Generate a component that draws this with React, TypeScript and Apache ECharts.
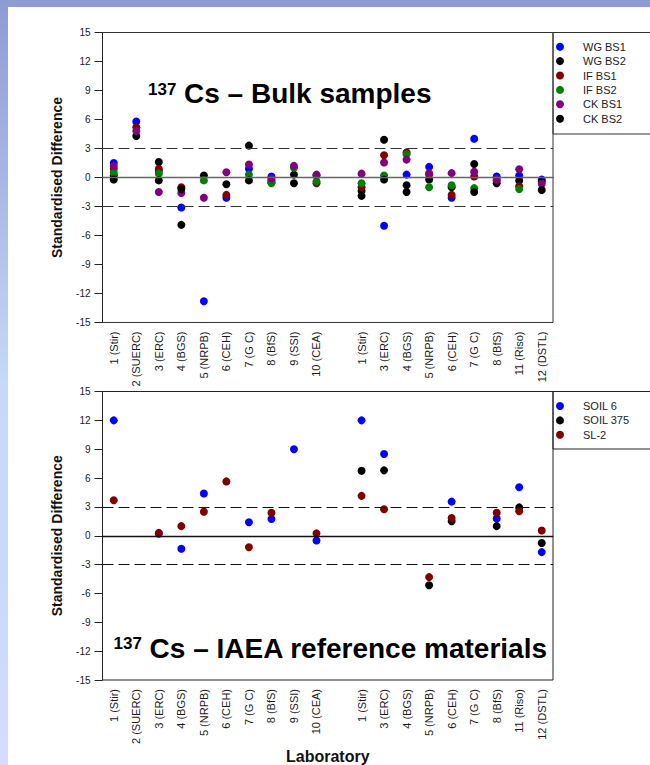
import React, { useEffect, useRef } from "react";
import * as echarts from "echarts";

const FONT = '"Liberation Sans", Arial, Helvetica, sans-serif';

// Laboratory codes along the x axis; the empty slot separates the two rounds
const labs = [
  "1 (Stir)", "2 (SUERC)", "3 (ERC)", "4 (BGS)", "5 (NRPB)", "6 (CEH)", "7 (G C)", "8 (BfS)", "9 (SSI)", "10 (CEA)",
  "",
  "1 (Stir)", "3 (ERC)", "4 (BGS)", "5 (NRPB)", "6 (CEH)", "7 (G C)", "8 (BfS)", "11 (Riso)", "12 (DSTL)",
];

// Standardised differences, 137Cs bulk samples
const wgBs1 = [1.5, 5.8, 0.7, -3.1, -12.8, -2.1, 0.9, 0.1, null, null, null, null, -5.0, 0.3, 1.1, -2.1, 4.0, 0.1, 0.2, -0.2];
const wgBs2 = [0.2, 4.3, 1.6, -4.9, 0.2, -0.7, 3.3, -0.5, 0.3, 0.2, null, -1.4, 3.9, -0.8, -0.2, -1.0, 1.4, -0.6, -0.3, -0.4];
const ifBs1 = [0.9, 5.2, 0.9, -1.0, null, -1.8, null, -0.3, null, -0.6, null, -1.0, 2.3, 2.6, 0.3, -1.8, 0.1, -0.3, -0.9, null];
const ifBs2 = [0.5, null, 0.4, null, -0.3, null, 0.3, -0.6, 1.0, -0.4, null, -0.6, 0.2, 2.4, -1.0, -0.8, -1.1, null, -1.2, null];
const ckBs1 = [1.2, 4.8, -1.5, -1.6, -2.1, 0.55, 1.35, -0.1, 1.2, 0.3, null, 0.4, 1.55, 1.85, 0.45, 0.45, 0.6, -0.15, 0.85, -0.65];
const ckBs2 = [-0.2, null, -0.3, -1.2, null, null, -0.3, null, -0.6, null, null, -1.9, -0.2, -1.5, null, null, -1.5, null, null, -1.3];

// Standardised differences, 137Cs IAEA reference materials
const soil6 = [12.0, null, 0.2, -1.35, 4.4, null, 1.4, 1.75, 9.0, -0.5, null, 12.0, 8.5, null, null, 3.55, null, 1.8, 5.05, -1.7];
const soil375 = [null, null, null, null, null, null, null, null, null, null, null, 6.75, 6.8, null, -5.15, 1.5, null, 1.0, 2.95, -0.75];
const sl2 = [3.7, null, 0.3, 1.0, 2.5, 5.65, -1.2, 2.4, null, 0.25, null, 4.15, 2.75, null, -4.3, 1.85, null, 2.4, 2.55, 0.55];

// Acceptance limits and zero line
const limits = [-3, 3];
const zeroLine = 0;

const topSeries = [
  { name: "WG BS1", values: wgBs1, color: "#0000ff" },
  { name: "WG BS2", values: wgBs2, color: "#000000" },
  { name: "IF BS1", values: ifBs1, color: "#800000" },
  { name: "IF BS2", values: ifBs2, color: "#008000" },
  { name: "CK BS1", values: ckBs1, color: "#800080" },
  { name: "CK BS2", values: ckBs2, color: "#000000" },
];

const bottomSeries = [
  { name: "SOIL 6", values: soil6, color: "#0000ff" },
  { name: "SOIL 375", values: soil375, color: "#000000" },
  { name: "SL-2", values: sl2, color: "#800000" },
];

const toPoints = (arr: (number | null)[]) =>
  arr.map((v, i) => (v == null ? null : [i, v])).filter((p) => p !== null);

const GRID_LEFT = 102.5;
const GRID_W = 450.5;
const GRID_H = 290;
const TOP_Y = [32.5, 391.5];

function xAxisFor(gridIndex: number, withName: boolean) {
  return {
    type: "category",
    gridIndex,
    data: labs,
    boundaryGap: true,
    axisLine: { lineStyle: { color: "#222", width: 1 } },
    axisTick: { alignWithLabel: true, interval: 0, length: 4.5, lineStyle: { color: "#222" } },
    axisLabel: { interval: 0, rotate: 90, fontSize: 11, margin: 9, color: "#1a1a1a", fontFamily: FONT },
    splitLine: { show: false },
    ...(withName
      ? {
          name: "Laboratory",
          nameLocation: "middle",
          nameGap: 68,
          nameTextStyle: { fontSize: 16, fontWeight: "bold", color: "#111", fontFamily: FONT },
        }
      : {}),
  };
}

function yAxisFor(gridIndex: number) {
  return {
    type: "value",
    gridIndex,
    min: -15,
    max: 15,
    interval: 3,
    axisLine: { show: true, lineStyle: { color: "#222", width: 1 } },
    axisTick: { show: true, length: 8, lineStyle: { color: "#222" } },
    axisLabel: { fontSize: 10, margin: 12, color: "#1a1a1a", fontFamily: FONT },
    splitLine: { show: false },
    name: "Standardised Difference",
    nameLocation: "middle",
    nameRotate: 90,
    nameGap: 39,
    nameTextStyle: { fontSize: 14, fontWeight: "bold", color: "#111", fontFamily: FONT },
  };
}

function refLineSeries(gridIndex: number, zeroColor: string, limitColor: string) {
  return {
    type: "scatter",
    name: "ref" + gridIndex,
    xAxisIndex: gridIndex,
    yAxisIndex: gridIndex,
    data: [],
    z: 1,
    silent: true,
    markLine: {
      silent: true,
      symbol: ["none", "none"],
      label: { show: false },
      emphasis: { disabled: true },
      data: [
        { yAxis: zeroLine, lineStyle: { color: zeroColor, width: 1.3, type: "solid" } },
        ...limits.map((v) => ({ yAxis: v, lineStyle: { color: limitColor, width: 1.2, type: [11, 5] } })),
      ],
    },
  };
}

function legendFor(names: string[], top: number) {
  return {
    data: names,
    orient: "vertical",
    left: 556,
    top,
    padding: 0,
    itemGap: 0,
    itemWidth: 36,
    itemHeight: 8,
    icon: "circle",
    selectedMode: false,
    textStyle: { fontSize: 11, lineHeight: 14.4, color: "#222", fontFamily: FONT },
  };
}

function titleTexts(x: number, y: number, rest: string) {
  return [
    {
      type: "text",
      x,
      y: y - 4.3,
      style: { text: "137", fontSize: 17, fontWeight: "bold", fontFamily: FONT, fill: "#000", align: "left", verticalAlign: "middle" },
    },
    {
      type: "text",
      x: x + 36,
      y,
      style: { text: rest, fontSize: 28, fontWeight: "bold", fontFamily: FONT, fill: "#000", align: "left", verticalAlign: "middle" },
    },
  ];
}

export default function App() {
  const ref = useRef<HTMLDivElement>(null);

  useEffect(() => {
    if (!ref.current) return;
    const chart = echarts.init(ref.current, undefined, { renderer: "svg" });

    const scatter = (s: { name: string; values: (number | null)[]; color: string }, gridIndex: number) => ({
      type: "scatter",
      name: s.name,
      xAxisIndex: gridIndex,
      yAxisIndex: gridIndex,
      data: toPoints(s.values),
      symbol: "circle",
      symbolSize: 8,
      z: 3,
      itemStyle: { color: s.color, opacity: 1 },
      emphasis: { disabled: true },
    });

    chart.setOption({
      animation: false,
      backgroundColor: "transparent",
      textStyle: { fontFamily: FONT },
      grid: TOP_Y.map((top, i) => ({
        left: GRID_LEFT,
        top,
        width: GRID_W,
        height: GRID_H,
        show: true,
        backgroundColor: "transparent",
        borderColor: i === 0 ? "#333" : "#222",
        borderWidth: 1,
      })),
      xAxis: [xAxisFor(0, false), xAxisFor(1, true)],
      yAxis: [yAxisFor(0), yAxisFor(1)],
      legend: [
        legendFor(topSeries.map((s) => s.name), 39.5),
        legendFor(bottomSeries.map((s) => s.name), 398.8),
      ],
      graphic: [
        {
          type: "rect",
          z: -1,
          shape: { x: 553, y: 32.5, width: 110, height: 101.5 },
          style: { fill: "#fff", stroke: "#333", lineWidth: 1 },
        },
        {
          type: "rect",
          z: -1,
          shape: { x: 553, y: 391.5, width: 110, height: 57.5 },
          style: { fill: "#fff", stroke: "#222", lineWidth: 1 },
        },
        ...titleTexts(148, 93.5, "Cs \u2013 Bulk samples"),
        ...titleTexts(113.6, 648.1, "Cs \u2013 IAEA reference materials"),
      ],
      series: [
        refLineSeries(0, "#666", "#333"),
        refLineSeries(1, "#111", "#111"),
        ...topSeries.map((s) => scatter(s, 0)),
        ...bottomSeries.map((s) => scatter(s, 1)),
      ],
    });

    return () => chart.dispose();
  }, []);

  return (
    <div
      style={{
        position: "fixed",
        left: 0,
        top: 0,
        width: 650,
        height: 765,
        overflow: "hidden",
        background: "linear-gradient(to bottom, #8e9bd3 0%, #a9b9e6 25%, #c4daf8 50%, #cad9fb 75%, #d6dcfc 100%)",
      }}
    >
      <div style={{ position: "absolute", left: 8, top: 7, right: 0, bottom: 0, background: "#fff" }} />
      <div ref={ref} style={{ position: "absolute", left: 0, top: 0, width: 650, height: 765 }} />
    </div>
  );
}
